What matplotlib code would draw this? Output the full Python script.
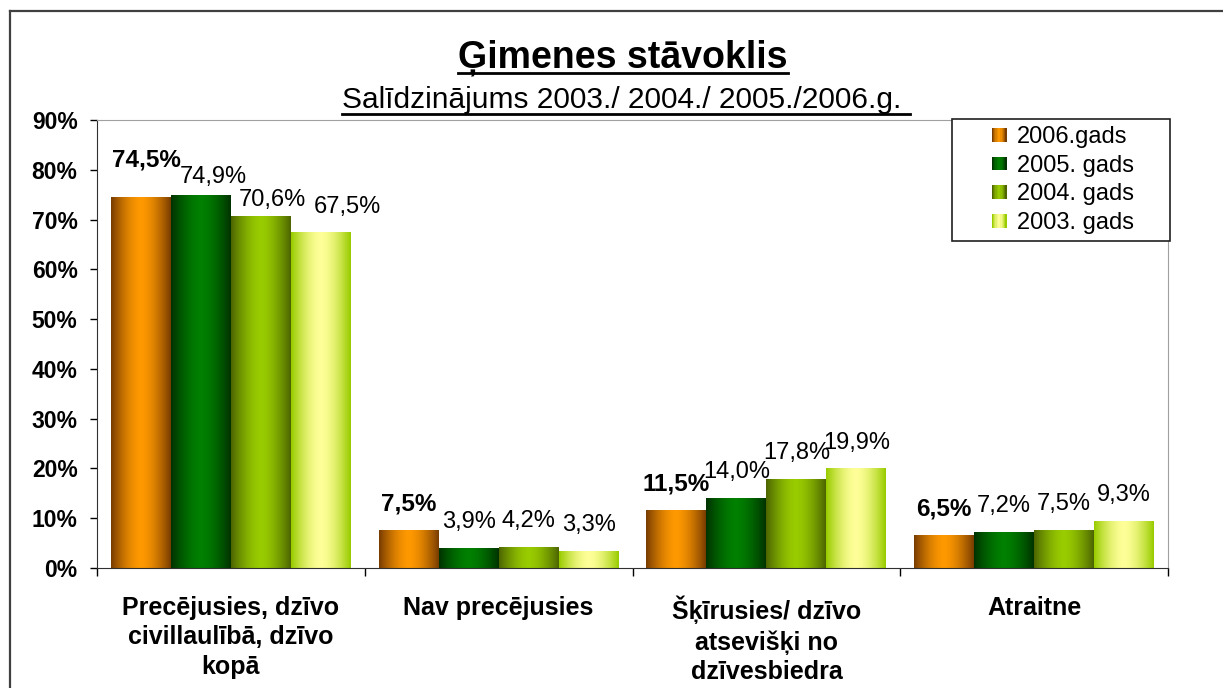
import numpy as np
import matplotlib
matplotlib.use("Agg")
import matplotlib.pyplot as plt
from matplotlib.colors import to_rgb
from matplotlib.legend_handler import HandlerBase
from matplotlib.patches import Rectangle
from matplotlib.lines import Line2D

plt.rcParams['font.family'] = ['Liberation Sans', 'DejaVu Sans']

categories = ["Precējusies, dzīvo\ncivillaulībā, dzīvo\nkopā",
              "Nav precējusies",
              "Šķīrusies/ dzīvo\natsevišķi no\ndzīvesbiedra",
              "Atraitne"]
series_names = ["2006.gads", "2005. gads", "2004. gads", "2003. gads"]
v2006 = [74.5, 7.5, 11.5, 6.5]
v2005 = [74.9, 3.9, 14.0, 7.2]
v2004 = [70.6, 4.2, 17.8, 7.5]
v2003 = [67.5, 3.3, 19.9, 9.3]
values = [v2006, v2005, v2004, v2003]

# gradient (edge colour, centre colour) per series
grads = [("#7a3d00", "#ff9900"),
         ("#003300", "#008000"),
         ("#4d6600", "#99cc00"),
         ("#99cc00", "#ffff99")]

# label offsets in points; the first group is spread out to avoid overlap
first_group_offsets = [(4, 27), (9, 13), (8, 12), (19, 18)]
default_offset = (0, 19)


def gradient_colors(edge, center, n=64):
    e = np.array(to_rgb(edge))
    c = np.array(to_rgb(center))
    x = np.linspace(0, 1, n)
    t = 1 - np.abs(2 * x - 1) ** 1.6
    return e[None, :] + (c - e)[None, :] * t[:, None]


class GradientHandler(HandlerBase):
    def __init__(self, edge, center):
        super().__init__()
        self.cols = gradient_colors(edge, center, 12)

    def create_artists(self, legend, orig_handle, xdescent, ydescent,
                       width, height, fontsize, trans):
        sq_w, sq_h = 10.8, 10.0
        x0 = -xdescent + width - sq_w
        y0 = -ydescent + (height - sq_h) / 2
        n = len(self.cols)
        arts = []
        for k, col in enumerate(self.cols):
            r = Rectangle((x0 + k * sq_w / n, y0), sq_w / n + 0.05, sq_h,
                          facecolor=col, edgecolor='none', transform=trans)
            arts.append(r)
        return arts


fig = plt.figure(figsize=(12.23, 6.88), dpi=100)
ax = fig.add_axes([97 / 1223, 120 / 688, 1071 / 1223, 448 / 688])

x = np.arange(len(categories))
w = 0.224
containers = []
for i, (vals, (edge, center)) in enumerate(zip(values, grads)):
    pos = x + (i - 1.5) * w
    bc = ax.bar(pos, vals, w, color='none', edgecolor='none')
    containers.append(bc)
    grad = gradient_colors(edge, center)[None, :, :]
    for rect in bc:
        x0 = rect.get_x()
        ax.imshow(grad, extent=(x0, x0 + rect.get_width(), 0, rect.get_height()),
                  aspect='auto', interpolation='bilinear', zorder=2)
    for j, (p, v) in enumerate(zip(pos, vals)):
        off = first_group_offsets[i] if j == 0 else default_offset
        ax.annotate(f"{v:.1f}".replace('.', ',') + "%", (p, v),
                    xytext=off, textcoords='offset points',
                    ha='center', va='center',
                    fontsize=17.5 if i == 0 else 17,
                    fontweight='bold' if i == 0 else 'normal')

ax.set_xlim(-0.5, len(categories) - 0.5)
ax.set_ylim(0, 90)
ax.set_yticks(np.arange(0, 91, 10))
ax.set_yticklabels([f"{t}%" for t in range(0, 91, 10)], fontsize=16.5, fontweight='bold')
ax.tick_params(axis='y', length=5, width=1, pad=9)

ax.set_xticks(np.arange(-0.5, len(categories)), labels=[])
ax.tick_params(axis='x', which='major', length=6, width=1, direction='out')
ax.set_xticks(x, minor=True)
ax.set_xticklabels(categories, minor=True, fontsize=18, fontweight='bold',
                   linespacing=1.3, va='top')
ax.tick_params(axis='x', which='minor', length=0, pad=20)

for s in ['top', 'right']:
    ax.spines[s].set_color('#a0a0a0')
for s in ['left', 'bottom']:
    ax.spines[s].set_color('#303030')

leg = ax.legend(containers, series_names, loc='upper left',
                bbox_to_anchor=(0.798, 0.5, 0.204, 0.502), mode='expand',
                borderaxespad=0, borderpad=0.3, handlelength=2.03,
                handleheight=0.7, handletextpad=0.45, labelspacing=0.28,
                fontsize=17, fancybox=False, framealpha=1,
                handler_map={c: GradientHandler(*g) for c, g in zip(containers, grads)})
leg.get_frame().set_edgecolor('#202020')
leg.get_frame().set_linewidth(1.2)

# titles
t1 = fig.text(623 / 1223, 1 - 68 / 688, "Ģimenes stāvoklis", ha='center',
              va='baseline', fontsize=27, fontweight='bold')
t2 = fig.text(626 / 1223, 1 - 108 / 688, "Salīdzinājums 2003./ 2004./ 2005./2006.g. ",
              ha='center', va='baseline', fontsize=21.5)

fig.canvas.draw()
r = fig.canvas.get_renderer()
for t, off in [(t1, 5), (t2, 6)]:
    bb = t.get_window_extent(r)
    yb = t.get_position()[1] * fig.bbox.height - off
    fig.add_artist(Line2D([bb.x0 / fig.bbox.width, bb.x1 / fig.bbox.width],
                          [yb / fig.bbox.height] * 2, color='black', lw=2,
                          transform=fig.transFigure))

# outer chart frame
fig.add_artist(Line2D([10 / 1223, 10 / 1223], [0, 1 - 11 / 688], color='#404040',
                      lw=1.6, transform=fig.transFigure))
fig.add_artist(Line2D([10 / 1223, 1], [1 - 11 / 688] * 2, color='#404040',
                      lw=1.6, transform=fig.transFigure))

fig.savefig("out.png", dpi=100)
